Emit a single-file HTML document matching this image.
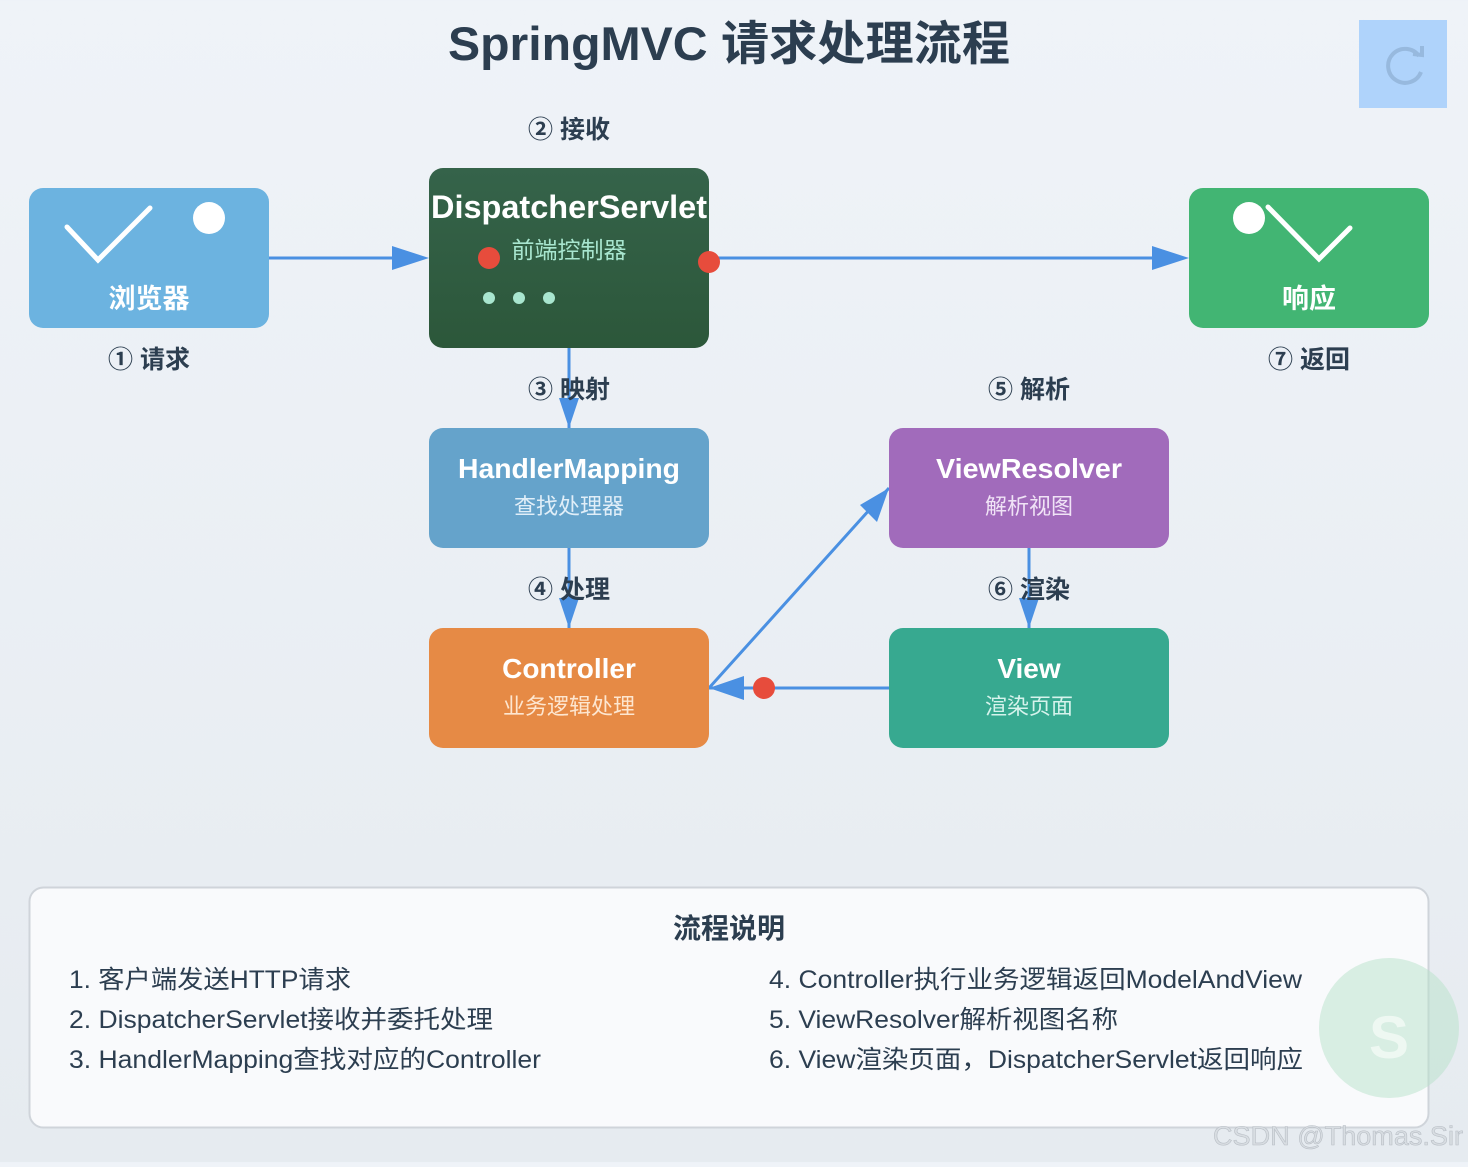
<!DOCTYPE html>
<html><head><meta charset="utf-8">
<style>
html,body{margin:0;padding:0;}
body{width:1468px;height:1162px;background:linear-gradient(180deg,#eff3f8,#e6ebf0);font-family:"Liberation Sans","Noto Sans CJK SC",sans-serif;overflow:hidden;}
svg text{font-family:"Liberation Sans","Noto Sans CJK SC",sans-serif;}
</style></head><body>
<svg width="1468" height="1162" viewBox="0 0 1468 1162" xmlns="http://www.w3.org/2000/svg">
<defs>
<linearGradient id="dsg" x1="0" y1="0" x2="0" y2="1"><stop offset="0" stop-color="#35634a"/><stop offset="1" stop-color="#2c573a"/></linearGradient>
</defs>
<text x="729" y="60" text-anchor="middle" font-size="47" font-weight="bold" fill="#2c3e50" textLength="562" lengthAdjust="spacingAndGlyphs">SpringMVC 请求处理流程</text>
<rect x="1359" y="20" width="88" height="88" fill="#afd3fb"/>
<path d="M1419,56 A17,17 0 1 0 1421,72" fill="none" stroke="#97b9de" stroke-width="4"/>
<path d="M1413,54 L1422,55 L1422,46" fill="none" stroke="#97b9de" stroke-width="4"/>

<line x1="269" y1="258" x2="400" y2="258" stroke="#4a90e2" stroke-width="3"/>
<path d="M392,246 L429,258 L392,270 z" fill="#4a90e2"/>
<line x1="709" y1="258" x2="1160" y2="258" stroke="#4a90e2" stroke-width="3"/>
<path d="M1152,246 L1189,258 L1152,270 z" fill="#4a90e2"/>
<line x1="569" y1="348" x2="569" y2="428" stroke="#4a90e2" stroke-width="3"/>
<path d="M559,398 L569,428 L579,398 z" fill="#4a90e2"/>
<line x1="569" y1="548" x2="569" y2="628" stroke="#4a90e2" stroke-width="3"/>
<path d="M559,598 L569,628 L579,598 z" fill="#4a90e2"/>
<line x1="1029" y1="548" x2="1029" y2="628" stroke="#4a90e2" stroke-width="3"/>
<path d="M1019,598 L1029,628 L1039,598 z" fill="#4a90e2"/>
<line x1="889" y1="688" x2="709" y2="688" stroke="#4a90e2" stroke-width="3"/>
<path d="M744,676 L709,688 L744,700 z" fill="#4a90e2"/>
<line x1="709" y1="688" x2="889" y2="488" stroke="#4a90e2" stroke-width="3"/>
<path d="M889,488 L877,522 L860,505 z" fill="#4a90e2"/>

<rect x="29" y="188" width="240" height="140" rx="14" fill="#6cb3e0"/>
<path d="M67,227 L98,260 L150,208" fill="none" stroke="#fff" stroke-width="5" stroke-linecap="round"/>
<circle cx="209" cy="218" r="16" fill="#fff"/>
<text x="149" y="308" text-anchor="middle" font-size="27" font-weight="bold" fill="#fff">浏览器</text>
<text x="149" y="368" text-anchor="middle" font-size="25" font-weight="bold" fill="#2c3e50">① 请求</text>

<rect x="429" y="168" width="280" height="180" rx="14" fill="url(#dsg)"/>
<text x="569" y="218" text-anchor="middle" font-size="32" font-weight="bold" fill="#fff" textLength="276" lengthAdjust="spacingAndGlyphs">DispatcherServlet</text>
<text x="569" y="258" text-anchor="middle" font-size="23" fill="#a8e6cf">前端控制器</text>
<circle cx="489" cy="258" r="11" fill="#e74c3c"/>
<circle cx="709" cy="262" r="11" fill="#e74c3c"/>
<circle cx="489" cy="298" r="6" fill="#a8e6cf"/>
<circle cx="519" cy="298" r="6" fill="#a8e6cf"/>
<circle cx="549" cy="298" r="6" fill="#a8e6cf"/>
<text x="569" y="138" text-anchor="middle" font-size="25" font-weight="bold" fill="#2c3e50">② 接收</text>

<rect x="1189" y="188" width="240" height="140" rx="14" fill="#42b573"/>
<circle cx="1249" cy="218" r="16" fill="#fff"/>
<path d="M1268,207 L1319,259 L1350,228" fill="none" stroke="#fff" stroke-width="5" stroke-linecap="round"/>
<text x="1309" y="308" text-anchor="middle" font-size="27" font-weight="bold" fill="#fff">响应</text>
<text x="1309" y="368" text-anchor="middle" font-size="25" font-weight="bold" fill="#2c3e50">⑦ 返回</text>

<rect x="429" y="428" width="280" height="120" rx="14" fill="#65a3cb"/>
<text x="569" y="478" text-anchor="middle" font-size="28" font-weight="bold" fill="#fff" textLength="222" lengthAdjust="spacingAndGlyphs">HandlerMapping</text>
<text x="569" y="514" text-anchor="middle" font-size="22" fill="#e0eef8">查找处理器</text>
<text x="569" y="398" text-anchor="middle" font-size="25" font-weight="bold" fill="#2c3e50">③ 映射</text>

<rect x="889" y="428" width="280" height="120" rx="14" fill="#a16bbb"/>
<text x="1029" y="478" text-anchor="middle" font-size="28" font-weight="bold" fill="#fff" textLength="186" lengthAdjust="spacingAndGlyphs">ViewResolver</text>
<text x="1029" y="514" text-anchor="middle" font-size="22" fill="#f0e3f6">解析视图</text>
<text x="1029" y="398" text-anchor="middle" font-size="25" font-weight="bold" fill="#2c3e50">⑤ 解析</text>

<rect x="429" y="628" width="280" height="120" rx="14" fill="#e68a45"/>
<text x="569" y="678" text-anchor="middle" font-size="28" font-weight="bold" fill="#fff">Controller</text>
<text x="569" y="714" text-anchor="middle" font-size="22" fill="#fde6d0">业务逻辑处理</text>
<text x="569" y="598" text-anchor="middle" font-size="25" font-weight="bold" fill="#2c3e50">④ 处理</text>

<rect x="889" y="628" width="280" height="120" rx="14" fill="#37a990"/>
<text x="1029" y="678" text-anchor="middle" font-size="28" font-weight="bold" fill="#fff">View</text>
<text x="1029" y="714" text-anchor="middle" font-size="22" fill="#d6f3ec">渲染页面</text>
<text x="1029" y="598" text-anchor="middle" font-size="25" font-weight="bold" fill="#2c3e50">⑥ 渲染</text>

<circle cx="764" cy="688" r="11" fill="#e74c3c"/>

<rect x="29.5" y="887.5" width="1399" height="240" rx="14" fill="#f9fafc" stroke="#cfd4da" stroke-width="2"/>
<text x="729" y="938" text-anchor="middle" font-size="28" font-weight="bold" fill="#2c3e50">流程说明</text>
<g font-size="25" fill="#2c3e50">
<text x="69" y="988" textLength="282" lengthAdjust="spacingAndGlyphs">1. 客户端发送HTTP请求</text>
<text x="69" y="1028" textLength="424" lengthAdjust="spacingAndGlyphs">2. DispatcherServlet接收并委托处理</text>
<text x="69" y="1068" textLength="472" lengthAdjust="spacingAndGlyphs">3. HandlerMapping查找对应的Controller</text>
<text x="769" y="988" textLength="533" lengthAdjust="spacingAndGlyphs">4. Controller执行业务逻辑返回ModelAndView</text>
<text x="769" y="1028" textLength="349" lengthAdjust="spacingAndGlyphs">5. ViewResolver解析视图名称</text>
<text x="769" y="1068" textLength="534" lengthAdjust="spacingAndGlyphs">6. View渲染页面，DispatcherServlet返回响应</text>
</g>
<circle cx="1389" cy="1028" r="70" fill="#b7e2c9" opacity="0.5"/>
<text x="1389" y="1058" text-anchor="middle" font-size="60" font-weight="bold" fill="#eef8f2">S</text>
<text x="1463" y="1145" text-anchor="end" font-size="27" fill="#d8dde2" stroke="#b8bec5" stroke-width="0.6" textLength="250" lengthAdjust="spacingAndGlyphs">CSDN @Thomas.Sir</text>
</svg>
</body></html>
